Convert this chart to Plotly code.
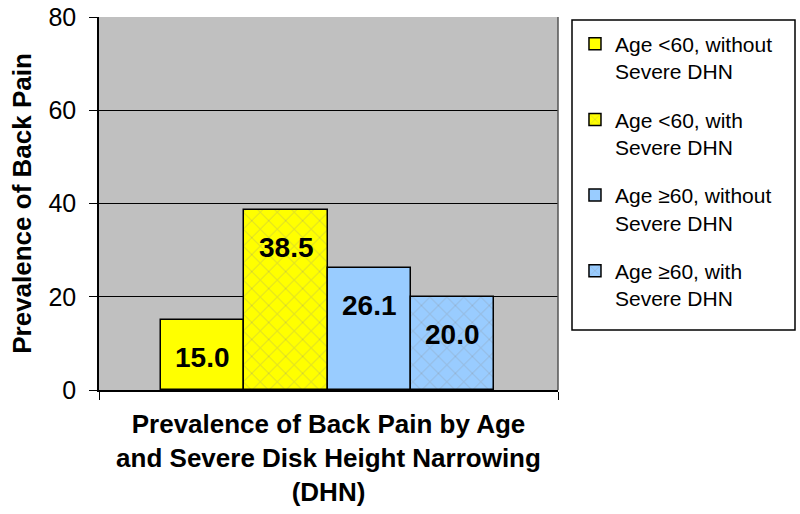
import plotly.graph_objects as go

series_names = [
    "Age <60, without<br>Severe DHN",
    "Age <60, with<br>Severe DHN",
    "Age ≥60, without<br>Severe DHN",
    "Age ≥60, with<br>Severe DHN",
]
values = [15.0, 38.5, 26.1, 20.0]
colors = ["#FFFF00", "#FFFF00", "#99CCFF", "#99CCFF"]
patterned = [False, True, False, True]
y_ticks = [0, 20, 40, 60, 80]

fig = go.Figure()
for i, (name, v, c, p) in enumerate(zip(series_names, values, colors, patterned)):
    pattern = dict(shape="x", fgcolor="#8c8c8c", bgcolor=c, size=12, solidity=0.12) if p else dict(shape="")
    fig.add_trace(go.Bar(
        x=[i], y=[v], width=[1.0], name=name,
        marker=dict(color=c, line=dict(color="black", width=1.5), pattern=pattern),
        legendgroup=f"g{i}", hoverinfo="skip",
    ))
    fig.add_annotation(x=i, y=v - 8, xref="x", yref="y", text=f"<b>{v:.1f}</b>",
                       showarrow=False, font=dict(family="Arial", size=28, color="black"))

fig.update_layout(
    width=800, height=514,
    margin=dict(l=99, r=242, t=17, b=124),
    paper_bgcolor="white", plot_bgcolor="#C0C0C0",
    bargap=0, barmode="overlay",
    showlegend=True,
    legend=dict(x=1.037, y=0.982, xanchor="left", yanchor="top", valign="top",
                borderwidth=0, bgcolor="rgba(0,0,0,0)",
                font=dict(family="Arial", size=21, color="black"),
                tracegroupgap=18, itemwidth=30),
    font=dict(family="Arial", color="black"),
)
fig.update_yaxes(range=[0, 80], tickvals=y_ticks, showgrid=True, gridcolor="black", gridwidth=1,
                 showline=True, linecolor="black", linewidth=1.5, ticks="outside", ticklen=8,
                 tickcolor="black", tickfont=dict(family="Arial", size=25), ticklabelstandoff=8,
                 title=dict(text="<b>Prevalence of Back Pain</b>", font=dict(family="Arial", size=26), standoff=9),
                 zeroline=False, automargin=False)
fig.update_xaxes(range=[-1.245, 4.265], tickvals=[-1.245, 4.265], ticktext=["", ""],
                 ticks="outside", ticklen=8, tickcolor="black", showgrid=False, zeroline=False,
                 showline=True, linecolor="black", linewidth=1.5, automargin=False,
                 title=dict(text="<b>Prevalence of Back Pain by Age<br>and Severe Disk Height Narrowing<br>(DHN)</b>",
                            font=dict(family="Arial", size=26), standoff=14))
# plot-area right border
fig.add_shape(type="line", xref="paper", yref="paper", x0=1, x1=1, y0=0, y1=1,
              line=dict(color="#555555", width=1.5))
# legend frame
fig.add_shape(type="rect", xref="paper", yref="paper",
              x0=(572 - 99) / 459, x1=(795 - 99) / 459, y0=(390 - 330) / 373, y1=(390 - 20) / 373,
              line=dict(color="black", width=1.5), fillcolor="rgba(0,0,0,0)", layer="below")
fig.write_html("out.html", config={"displayModeBar": False},
               post_script="document.body.style.margin='0';")
